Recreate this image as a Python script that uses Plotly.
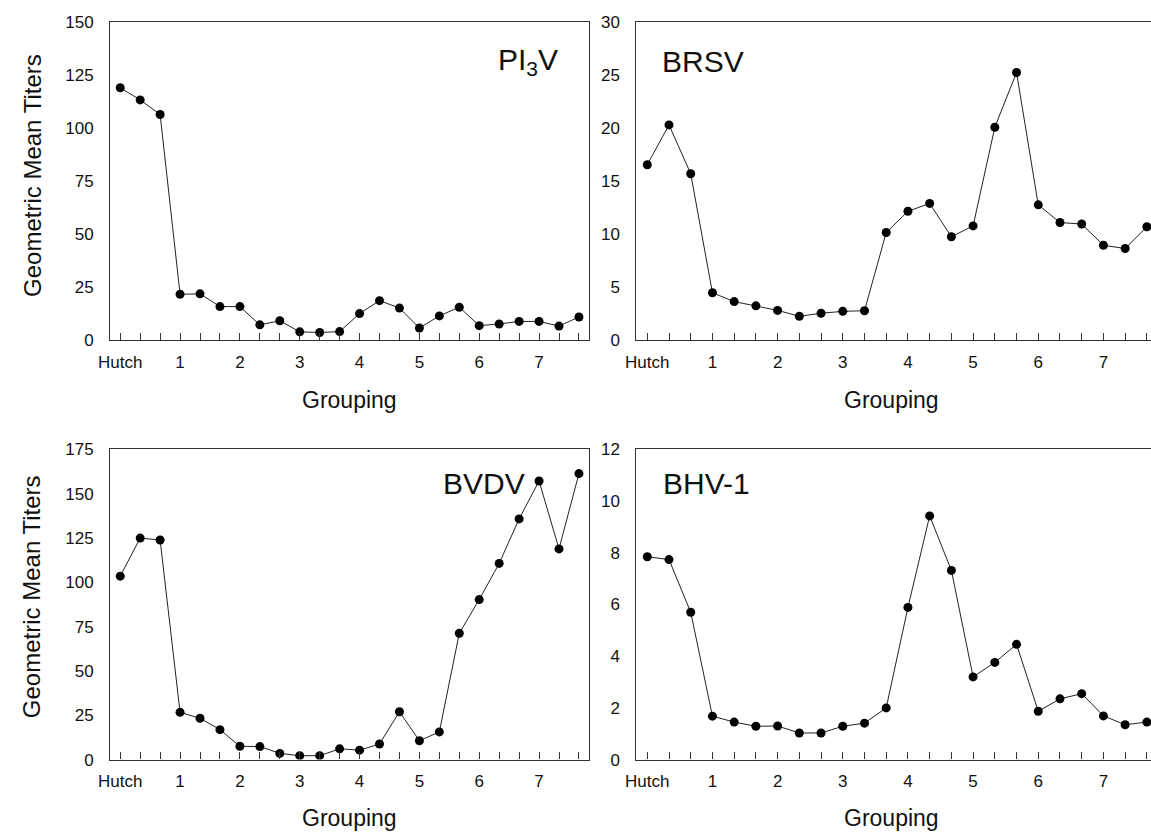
import plotly.graph_objects as go

W, H = 1151, 838

group_labels = ["Hutch", "1", "2", "3", "4", "5", "6", "7"]
points_per_group = 3

pi3v = [119, 113.3, 106.4, 21.7, 21.9, 15.9, 15.9, 7.3, 9.2, 4.0, 3.7, 4.1,
        12.6, 18.7, 15.2, 5.8, 11.5, 15.6, 6.9, 7.7, 8.9, 8.9, 6.7, 11.0]
brsv = [16.55, 20.3, 15.7, 4.48, 3.65, 3.25, 2.82, 2.27, 2.55, 2.73, 2.79, 10.16,
        12.16, 12.9, 9.76, 10.78, 20.08, 25.24, 12.77, 11.1, 10.96, 8.96, 8.65, 10.7]
bvdv = [103.5, 125, 123.9, 26.65, 23.3, 16.9, 7.5, 7.35, 3.5, 2.2, 2.2, 6.07,
        5.33, 8.8, 27.0, 10.66, 15.6, 71.3, 90.3, 110.7, 135.8, 157.2, 118.9, 161.4]
bhv1 = [7.85, 7.74, 5.70, 1.68, 1.45, 1.29, 1.30, 1.03, 1.03, 1.29, 1.41, 2.0,
        5.89, 9.43, 7.32, 3.20, 3.76, 4.46, 1.87, 2.35, 2.55, 1.69, 1.35, 1.45]

panel_names = ["PI<sub>3</sub>V", "BRSV", "BVDV", "BHV-1"]
y_max = [150, 30, 175, 12]
y_step = [25, 5, 25, 2]

n = len(pi3v)
xs = list(range(n))
tick_text = []
for i in xs:
    tick_text.append(group_labels[i // points_per_group] if i % points_per_group == 0 else "")

FONT = "Liberation Sans, Arial, sans-serif"

def px_x(p):
    return p / W

def px_y(p):
    return 1 - p / H

# domains in pixels
left_x = (99.3, 583.0)
right_x = (631.0, 1151.0)
top_y = (13.3, 339.0)
bot_y = (450.7, 768.0)

fig = go.Figure()

series = [pi3v, brsv, bvdv, bhv1]
axes_ids = ["", "2", "3", "4"]
for s, aid in zip(series, axes_ids):
    fig.add_trace(go.Scatter(
        x=xs, y=s, mode="lines+markers",
        xaxis="x" + aid, yaxis="y" + aid,
        line=dict(color="#222222", width=1),
        marker=dict(color="#000000", size=9),
        showlegend=False, hoverinfo="skip",
    ))

def xaxis_cfg(dom, rng, anchor, right):
    return dict(
        domain=[px_x(dom[0]), px_x(dom[1])], range=rng, anchor=anchor,
        tickmode="array", tickvals=xs, ticktext=tick_text,
        ticks="inside", ticklen=7, tickwidth=1, tickcolor="#333333",
        showline=True, linecolor="#333333", linewidth=1.3, mirror=True,
        showgrid=False, zeroline=False, fixedrange=True,
        tickfont=dict(family=FONT, size=17, color="#111111"),
        ticklabelstandoff=6,
    )

def yaxis_cfg(dom, ymax, step, anchor, right):
    return dict(
        domain=[px_y(dom[1]), px_y(dom[0])], range=[0, ymax], anchor=anchor,
        tickmode="linear", tick0=0, dtick=step,
        ticks="", showline=True, linecolor="#333333", linewidth=1.3,
        mirror=(not right),
        showgrid=False, zeroline=False, fixedrange=True,
        tickfont=dict(family=FONT, size=17, color="#111111"),
        ticklabelstandoff=12,
    )

right_range = [-0.5, -0.5 + (right_x[1] - right_x[0]) / 21.95]

fig.update_layout(
    width=W, height=H,
    margin=dict(l=0, r=0, t=0, b=0),
    paper_bgcolor="white", plot_bgcolor="white",
    xaxis=xaxis_cfg(left_x, [-0.5, 23.5], "y", False),
    yaxis=yaxis_cfg(top_y, y_max[0], y_step[0], "x", False),
    xaxis2=xaxis_cfg(right_x, right_range, "y2", True),
    yaxis2=yaxis_cfg(top_y, y_max[1], y_step[1], "x2", True),
    xaxis3=xaxis_cfg(left_x, [-0.5, 23.5], "y3", False),
    yaxis3=yaxis_cfg(bot_y, y_max[2], y_step[2], "x3", False),
    xaxis4=xaxis_cfg(right_x, right_range, "y4", True),
    yaxis4=yaxis_cfg(bot_y, y_max[3], y_step[3], "x4", True),
)

ann = []
# panel labels
label_pos = [(521, 54, "center"), (655, 54, "left"), (434, 486, "left"), (656, 486, "left")]
for name, (px, py, al) in zip(panel_names, label_pos):
    ann.append(dict(text=name, x=px_x(px), y=px_y(py), xref="paper", yref="paper",
                    xanchor=al, yanchor="middle", showarrow=False,
                    font=dict(family=FONT, size=30, color="#111111")))
# axis titles
for cx, cy in [(341, 400), (889, 400), (341, 828), (889, 828)]:
    ann.append(dict(text="Grouping", x=px_x(cx), y=px_y(cy), xref="paper", yref="paper",
                    xanchor="center", yanchor="middle", showarrow=False,
                    font=dict(family=FONT, size=23, color="#111111")))
for cy in [170, 601]:
    ann.append(dict(text="Geometric Mean Titers", x=px_x(20), y=px_y(cy), xref="paper", yref="paper",
                    xanchor="center", yanchor="middle", showarrow=False, textangle=-90,
                    font=dict(family=FONT, size=24, color="#111111")))
fig.update_layout(annotations=ann)

fig.write_html("out.html")
